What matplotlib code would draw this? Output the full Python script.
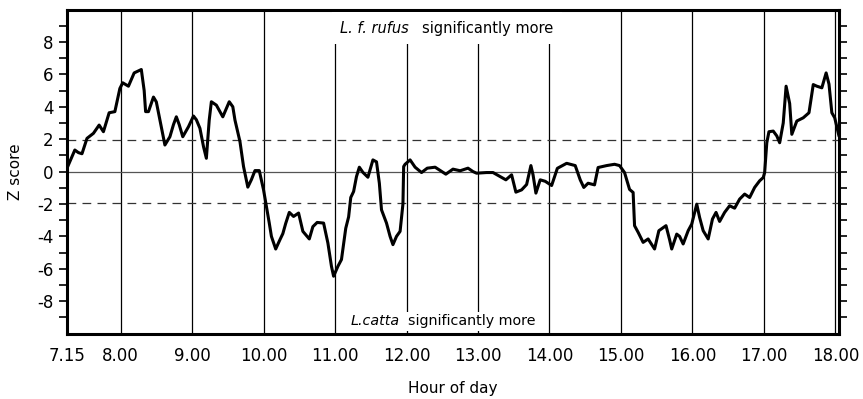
import numpy as np
import matplotlib
matplotlib.use("Agg")
import matplotlib.pyplot as plt

# time of day (decimal hours) and running Z score
hours = [7.25, 7.36, 7.41, 7.46, 7.53, 7.62, 7.70, 7.76, 7.84, 7.92,
         7.99, 8.03, 8.11, 8.19, 8.29, 8.33, 8.35, 8.39, 8.46, 8.50,
         8.55, 8.62, 8.69, 8.74, 8.78, 8.82, 8.87, 8.95, 9.02, 9.06,
         9.11, 9.16, 9.20, 9.24, 9.27, 9.34, 9.43, 9.52, 9.57, 9.60,
         9.67, 9.72, 9.78, 9.83, 9.88, 9.94, 10.00, 10.04, 10.08, 10.11,
         10.17, 10.23, 10.27, 10.31, 10.36, 10.42, 10.49, 10.55, 10.64, 10.69,
         10.75, 10.84, 10.90, 10.95, 10.98, 11.04, 11.09, 11.15, 11.19, 11.22,
         11.26, 11.30, 11.34, 11.39, 11.46, 11.53, 11.58, 11.62, 11.65, 11.72,
         11.77, 11.81, 11.86, 11.91, 11.95, 11.96, 11.98, 12.05, 12.12, 12.21,
         12.29, 12.40, 12.47, 12.55, 12.65, 12.75, 12.86, 12.93, 12.98, 13.12,
         13.21, 13.31, 13.39, 13.47, 13.53, 13.61, 13.68, 13.74, 13.77, 13.81,
         13.87, 13.94, 14.03, 14.11, 14.24, 14.36, 14.43, 14.48, 14.54, 14.63,
         14.68, 14.80, 14.91, 14.98, 15.05, 15.12, 15.17, 15.19, 15.24, 15.31,
         15.38, 15.43, 15.47, 15.53, 15.63, 15.68, 15.71, 15.78, 15.82, 15.87,
         15.94, 15.99, 16.06, 16.10, 16.15, 16.22, 16.28, 16.33, 16.38, 16.45,
         16.52, 16.59, 16.66, 16.73, 16.80, 16.87, 16.94, 16.99, 17.01, 17.04,
         17.07, 17.13, 17.18, 17.22, 17.27, 17.31, 17.36, 17.39, 17.46, 17.55,
         17.63, 17.69, 17.74, 17.81, 17.87, 17.91, 17.95, 17.99, 18.04, 18.05]

zscore = [0.2, 1.33, 1.17, 1.1, 2.05, 2.36, 2.87, 2.46, 3.63, 3.7,
          5.13, 5.48, 5.27, 6.09, 6.3, 5.0, 3.7, 3.7, 4.6, 4.3,
          3.18, 1.64, 2.15, 2.9, 3.38, 2.9, 2.15, 2.77, 3.43, 3.2,
          2.67, 1.54, 0.82, 3.18, 4.31, 4.1, 3.38, 4.31, 4.0, 3.18,
          1.85, 0.31, -0.96, -0.5, 0.06, 0.06, -1.13, -2.15, -3.18, -4.0,
          -4.78, -4.2, -3.83, -3.2, -2.52, -2.77, -2.56, -3.69, -4.16, -3.4,
          -3.14, -3.18, -4.41, -5.85, -6.46, -5.85, -5.43, -3.5, -2.8, -1.6,
          -1.23, -0.31, 0.27, -0.05, -0.35, 0.72, 0.6, -0.72, -2.36, -3.18,
          -4.0, -4.51, -4.0, -3.69, -2.0, 0.31, 0.45, 0.72, 0.27, -0.06,
          0.21, 0.27, 0.07, -0.16, 0.15, 0.05, 0.21, 0.0, -0.1, -0.06,
          -0.06, -0.31, -0.51, -0.2, -1.27, -1.13, -0.8, 0.37, -0.2, -1.33,
          -0.51, -0.6, -0.86, 0.2, 0.51, 0.37, -0.51, -0.98, -0.72, -0.82,
          0.25, 0.37, 0.45, 0.37, -0.06, -1.1, -1.29, -3.34, -3.75, -4.37,
          -4.16, -4.5, -4.78, -3.65, -3.34, -4.2, -4.78, -3.86, -4.0, -4.47,
          -3.65, -3.24, -2.01, -2.83, -3.65, -4.16, -2.93, -2.52, -3.08, -2.52,
          -2.11, -2.26, -1.7, -1.39, -1.6, -0.98, -0.57, -0.37, -0.06, 1.78,
          2.46, 2.5, 2.2, 1.78, 3.0, 5.27, 4.2, 2.3, 3.12, 3.32,
          3.63, 5.37, 5.27, 5.17, 6.09, 5.4, 3.63, 3.32, 2.4, 2.19]

hour_ticks = [7.25, 8, 9, 10, 11, 12, 13, 14, 15, 16, 17, 18]
hour_labels = ["7.15", "8.00", "9.00", "10.00", "11.00", "12.00", "13.00",
               "14.00", "15.00", "16.00", "17.00", "18.00"]
z_labels = [-8, -6, -4, -2, 0, 2, 4, 6, 8]
z_crit = 1.96

fig = plt.figure(figsize=(8.63, 3.99), dpi=100)
ax = fig.add_axes([0.0776, 0.164, 0.895, 0.812])

# hour grid
for h in hour_ticks[1:]:
    ax.axvline(h, color="black", lw=0.9, zorder=1)

ax.axhline(0, color="#555555", lw=0.9, zorder=1)
for z in (z_crit, -z_crit):
    ax.axhline(z, color="#333333", lw=0.9, dashes=(7, 5), zorder=1)

ax.plot(hours, zscore, color="black", lw=2.2, solid_joinstyle="round",
        solid_capstyle="round", zorder=3)

# labels for the significance regions
top_box = dict(facecolor="white", edgecolor="none", pad=6)
low_box = dict(facecolor="white", edgecolor="none", pad=2)
ax.text(12.03, 8.85, "L. f. rufus", style="italic", ha="right", va="center",
        fontsize=10.5, zorder=4, bbox=top_box)
ax.text(12.22, 8.85, "significantly more", ha="left", va="center",
        fontsize=10.5, zorder=4, bbox=top_box)
ax.text(11.9, -9.25, "L.catta", style="italic", ha="right", va="center",
        fontsize=10.3, zorder=4, bbox=low_box)
ax.text(12.02, -9.25, "significantly more", ha="left", va="center",
        fontsize=10.3, zorder=4, bbox=low_box)

ax.set_xlim(7.25, 18.055)
ax.set_ylim(-10, 10)

ax.set_xticks(hour_ticks)
ax.set_xticklabels(hour_labels, fontsize=12)
ax.tick_params(axis="x", length=0, pad=10)

ax.set_yticks(z_labels)
ax.set_yticklabels([str(v) for v in z_labels], fontsize=12)
ax.set_yticks(np.arange(-9, 10), minor=True)
ax.tick_params(axis="y", which="both", direction="out", length=6, width=1.2,
               right=True, left=True)

for side in ax.spines.values():
    side.set_linewidth(2.2)

ax.set_xlabel("Hour of day", fontsize=11, labelpad=11)
ax.set_ylabel("Z score", fontsize=11, labelpad=10)

fig.savefig("out.png", dpi=100)
